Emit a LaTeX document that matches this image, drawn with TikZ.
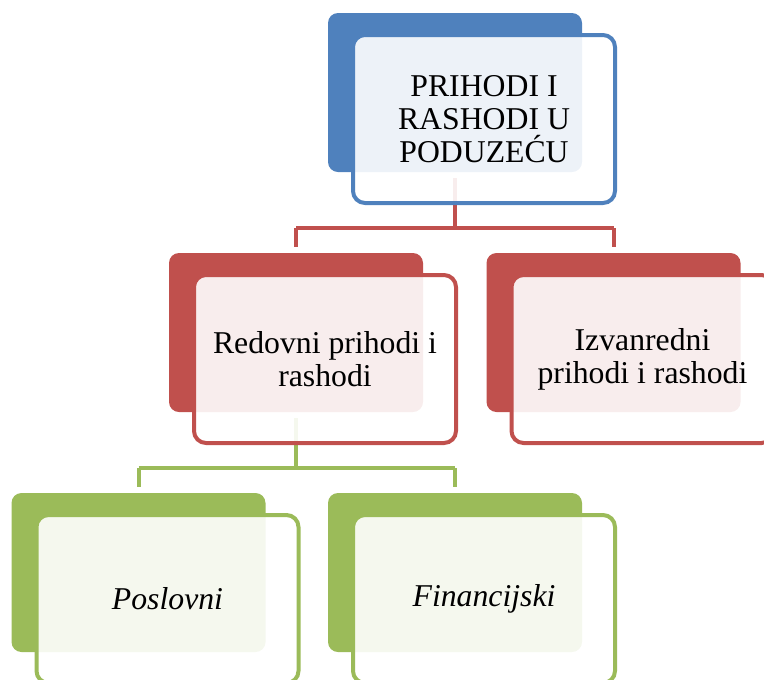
\documentclass[tikz,border=0pt]{standalone}
\usepackage{fontspec}
\setmainfont{Liberation Serif}
\usetikzlibrary{calc}
\definecolor{cblue}{HTML}{4F81BD}
\definecolor{cred}{HTML}{C0504D}
\definecolor{cgreen}{HTML}{9BBB59}
\tikzset{
  px/.style={x=0.75pt,y=-0.75pt},
  backbox/.style={fill=#1, draw=none, rounded corners=7.5pt, minimum width=190.5pt, minimum height=119.25pt, inner sep=0pt},
  frontbox/.style={draw=#1, line width=3pt, fill=white, fill opacity=0.9, text opacity=1, rounded corners=9pt, minimum width=196.5pt, minimum height=126pt, inner sep=0pt, align=center, font=\fontsize{23.8}{24.75}\selectfont},
  conn/.style={draw=#1, line width=3pt}
}
\begin{document}
\begin{tikzpicture}[px]
\path[use as bounding box, clip] (0,0) rectangle (764,679);
% filled back boxes
\node[backbox=cblue] (topF) at (455,92.5) {};
\node[backbox=cred] (rlF) at (296,332.5) {};
\node[backbox=cred] (rrF) at (613.5,332.5) {};
\node[backbox=cgreen] (glF) at (138.5,572.5) {};
\node[backbox=cgreen] (grF) at (455,572.5) {};
% connectors
\coordinate (j1) at ($(topF.south)+(0,56)$);
\draw[conn=cred] ($(topF.south)+(0,6)$) -- (j1);
\draw[conn=cred] (j1 -| rlF.north) -- (j1 -| rrF.north);
\draw[conn=cred] (j1 -| rlF.north) -- ($(rlF.north)+(0,-6)$);
\draw[conn=cred] (j1 -| rrF.north) -- ($(rrF.north)+(0,-6)$);
\coordinate (j2) at ($(rlF.south)+(0,56)$);
\draw[conn=cgreen] ($(rlF.south)+(0,6)$) -- (j2);
\draw[conn=cgreen] (j2 -| glF.north) -- (j2 -| grF.north);
\draw[conn=cgreen] (j2 -| glF.north) -- ($(glF.north)+(0,-6)$);
\draw[conn=cgreen] (j2 -| grF.north) -- ($(grF.north)+(0,-6)$);
% front boxes with text
\node[frontbox=cblue] (top) at ($(topF)+(29,26.5)$) {PRIHODI I\\RASHODI U\\PODUZEĆU};
\node[frontbox=cred] (rl) at ($(rlF)+(29,26.5)$) {Redovni prihodi i\\rashodi};
\node[frontbox=cred] (rr) at ($(rrF)+(29,26.5)$) {Izvanredni\\prihodi i rashodi};
\node[frontbox=cgreen] (gl) at ($(glF)+(29,26.5)$) {\itshape Poslovni};
\node[frontbox=cgreen] (gr) at ($(grF)+(29,26.5)$) {\itshape Financijski};
\end{tikzpicture}
\end{document}
